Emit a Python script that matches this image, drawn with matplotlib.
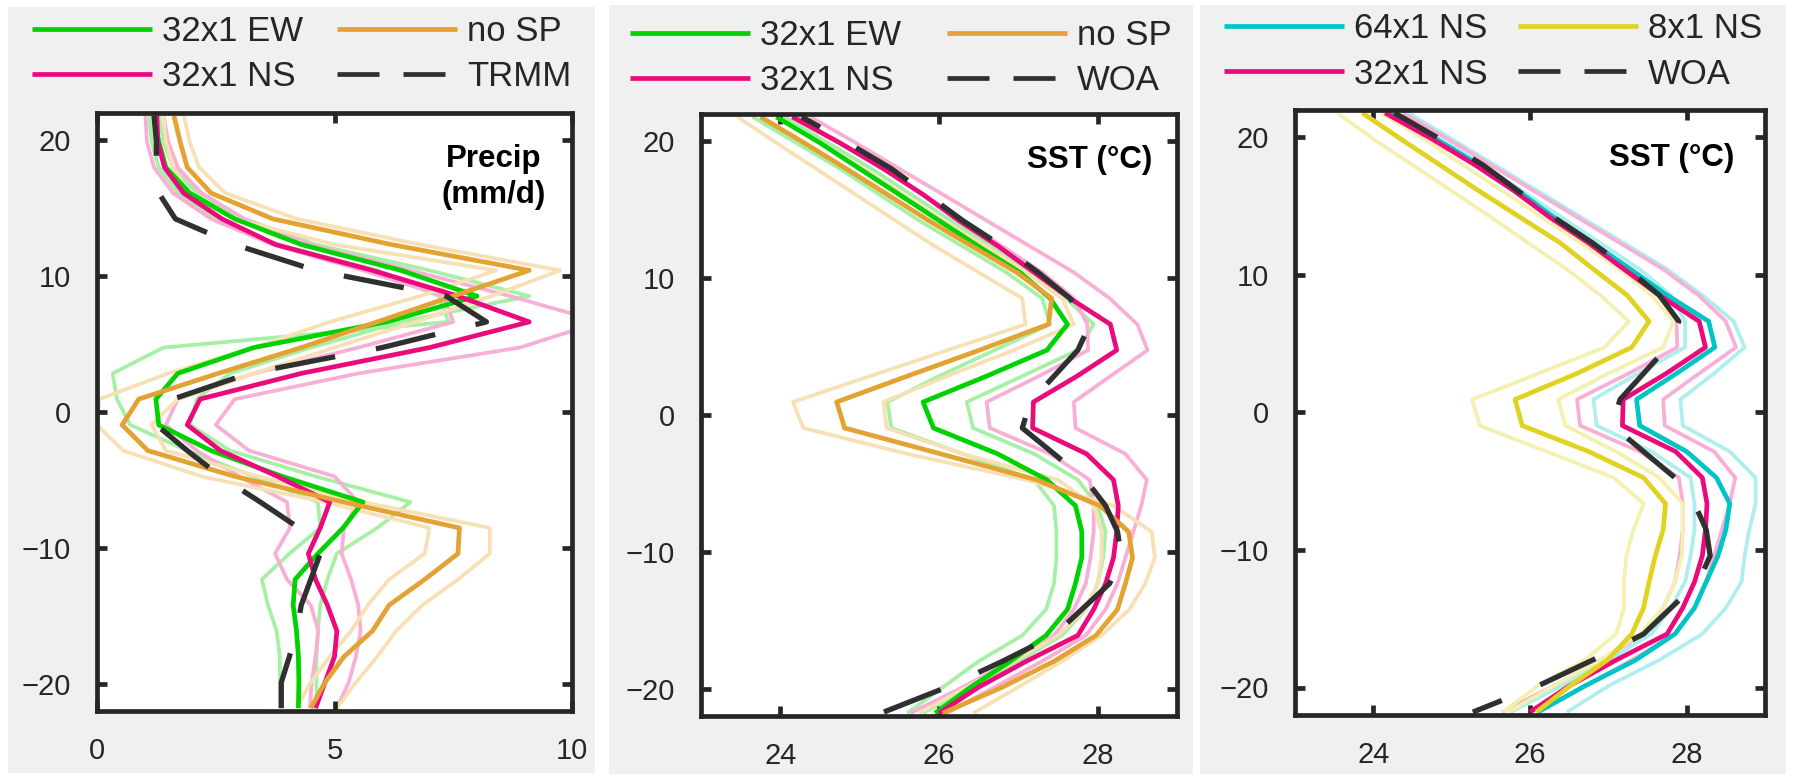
import matplotlib
matplotlib.use('Agg')
import matplotlib.pyplot as plt
from matplotlib.lines import Line2D
from matplotlib.patches import Rectangle

plt.rcParams['font.family'] = ['Liberation Sans', 'DejaVu Sans']
plt.rcParams['lines.scale_dashes'] = False
plt.rcParams['lines.solid_capstyle'] = 'butt'
plt.rcParams['lines.dash_capstyle'] = 'butt'

W, H = 1794, 776

# model latitudes (north to south)
lat = [21.79, 19.89, 18.0, 16.11, 14.21, 12.32, 10.42, 8.53, 6.63, 4.74, 2.84, 0.95,
       -0.95, -2.84, -4.74, -6.63, -8.53, -10.42, -12.32, -14.21, -16.11, -18.0, -19.89, -21.79]

# ---- precipitation (mm/d) ----
pr_ew = [1.2, 1.3, 1.45, 1.95, 2.9, 4.3, 6.4, 8.0, 6.1, 3.3, 1.7, 1.24,
         1.3, 2.4, 3.9, 5.6, 5.18, 4.65, 4.17, 4.13, 4.2, 4.24, 4.25, 4.24]
pr_ew_lo = [1.1, 1.15, 1.3, 1.7, 2.5, 3.8, 5.9, 7.2, 7.4, 1.4, 0.33, 0.42,
            0.7, 1.9, 3.3, 4.65, 4.7, 4.05, 3.47, 3.6, 3.78, 3.85, 3.85, 3.85]
pr_ew_hi = [1.3, 1.4, 1.6, 2.1, 3.1, 4.6, 7.0, 9.1, 6.4, 4.5, 2.8, 2.1,
            1.96, 2.8, 4.6, 6.6, 5.9, 5.05, 4.85, 4.7, 4.65, 4.62, 4.62, 4.62]
pr_ns = [1.26, 1.28, 1.42, 1.82, 2.63, 3.76, 5.8, 7.6, 9.1, 7.0, 4.3, 2.17,
         1.9, 2.6, 3.8, 4.9, 4.7, 4.45, 4.6, 4.85, 5.05, 5.0, 4.8, 4.6]
pr_ns_lo = [1.02, 1.05, 1.2, 1.6, 2.4, 3.7, 5.6, 7.3, 7.5, 5.5, 3.3, 1.7,
            1.45, 2.1, 3.0, 4.0, 4.06, 3.75, 4.0, 4.5, 4.66, 4.6, 4.52, 4.48]
pr_ns_hi = [1.4, 1.5, 1.7, 2.2, 3.1, 4.5, 6.6, 8.7, 10.6, 8.9, 5.5, 2.9,
            2.5, 3.2, 5.0, 5.5, 5.2, 5.15, 5.35, 5.5, 5.55, 5.45, 5.3, 5.05]
pr_nosp = [1.62, 1.75, 1.9, 2.4, 3.7, 6.2, 9.1, 7.5, 5.9, 4.3, 2.55, 0.88,
           0.53, 1.07, 2.9, 5.2, 7.63, 7.6, 6.9, 6.15, 5.8, 5.2, 4.8, 4.5]
pr_nosp_lo = [1.4, 1.45, 1.6, 1.95, 2.9, 5.0, 8.4, 6.8, 4.9, 3.3, 1.5, 0.05,
              0.0, 0.55, 2.2, 4.8, 7.0, 6.9, 6.15, 5.7, 5.35, 4.9, 4.5, 4.2]
pr_nosp_hi = [1.83, 1.95, 2.15, 2.7, 4.2, 6.8, 9.75, 8.3, 6.7, 5.0, 3.3, 1.7,
              1.15, 1.45, 3.4, 5.6, 8.27, 8.27, 7.6, 6.85, 6.3, 5.9, 5.45, 5.05]
pr_trmm = [1.2, 1.25, 1.25, 1.3, 1.65, 2.9, 4.6, 7.35, 8.2, 6.0, 3.2, 1.6,
           1.25, 1.9, 2.6, 3.44, 4.25, 4.7, 4.5, 4.3, 4.2, 4.05, 3.88, 3.88]

# ---- sea surface temperature (degC) ----
sst_woa = [24.27, 24.85, 25.4, 25.85, 26.3, 26.8, 27.25, 27.65, 27.9, 27.75, 27.45, 27.15,
           27.05, 27.45, 27.85, 28.1, 28.25, 28.3, 28.15, 27.8, 27.45, 26.8, 26.1, 25.27]
sst_ew = [23.95, 24.5, 25.0, 25.5, 26.0, 26.5, 27.02, 27.4, 27.62, 27.36, 26.6, 25.8,
          25.93, 26.74, 27.36, 27.72, 27.8, 27.8, 27.72, 27.62, 27.35, 26.9, 26.4, 25.95]
sst_ew_lo = [23.65, 24.2, 24.75, 25.25, 25.75, 26.3, 26.85, 27.3, 27.4, 26.7, 26.0, 25.35,
             25.4, 26.3, 27.2, 27.45, 27.48, 27.48, 27.45, 27.35, 27.05, 26.5, 26.05, 25.6]
sst_ew_hi = [24.05, 24.6, 25.15, 25.65, 26.15, 26.65, 27.15, 27.6, 27.95, 27.75, 27.05, 26.35,
             26.43, 27.2, 27.75, 28.0, 28.1, 28.07, 28.0, 27.85, 27.55, 27.0, 26.4, 25.8]
sst_ns = [24.15, 24.75, 25.3, 25.8, 26.25, 26.75, 27.2, 27.65, 28.16, 28.24, 27.74, 27.19,
          27.18, 27.86, 28.2, 28.26, 28.24, 28.2, 28.1, 27.95, 27.75, 27.1, 26.5, 26.0]
sst_ns_lo = [24.2, 24.75, 25.3, 25.8, 26.3, 26.8, 27.3, 27.7, 27.87, 27.88, 27.26, 26.6,
             26.64, 27.4, 27.9, 27.95, 27.95, 27.91, 27.85, 27.7, 27.45, 26.9, 26.3, 25.64]
sst_ns_hi = [24.38, 24.95, 25.5, 26.05, 26.6, 27.15, 27.7, 28.15, 28.5, 28.63, 28.16, 27.7,
             27.72, 28.35, 28.62, 28.55, 28.45, 28.35, 28.25, 28.1, 27.85, 27.3, 26.7, 26.1]
sst_nosp = [23.75, 24.3, 24.83, 25.35, 25.87, 26.42, 26.98, 27.42, 27.38, 26.51, 25.6, 24.71,
            24.81, 26.02, 27.23, 28.03, 28.39, 28.44, 28.35, 28.25, 27.98, 27.45, 26.8, 26.05]
sst_nosp_a = [23.46, 23.95, 24.45, 24.95, 25.45, 25.95, 26.5, 27.05, 27.09, 26.11, 25.13, 24.16,
              24.29, 25.6, 27.1, 28.2, 28.68, 28.72, 28.6, 28.4, 28.05, 27.55, 27.0, 26.43]
sst_nosp_b = [23.95, 24.5, 25.05, 25.55, 26.05, 26.6, 27.1, 27.55, 27.7, 26.94, 26.1, 25.3,
              25.34, 26.3, 27.5, 27.95, 28.05, 28.05, 28.0, 27.85, 27.5, 26.95, 26.35, 25.75]
sst_64 = [24.2, 24.8, 25.35, 25.85, 26.3, 26.8, 27.28, 27.75, 28.28, 28.36, 27.87, 27.36,
          27.4, 28.0, 28.38, 28.55, 28.5, 28.4, 28.25, 28.1, 27.85, 27.35, 26.7, 26.1]
sst_64_lo = [24.25, 24.85, 25.4, 25.9, 26.4, 26.9, 27.4, 27.8, 27.98, 27.98, 27.38, 26.81,
             26.85, 27.55, 28.05, 28.1, 28.1, 28.05, 27.98, 27.8, 27.55, 27.0, 26.4, 25.75]
sst_64_hi = [24.45, 25.0, 25.55, 26.1, 26.65, 27.2, 27.75, 28.2, 28.6, 28.74, 28.35, 27.92,
             27.95, 28.55, 28.88, 28.88, 28.8, 28.74, 28.7, 28.5, 28.2, 27.65, 27.0, 26.47]
sst_8 = [23.86, 24.35, 24.85, 25.35, 25.87, 26.39, 26.81, 27.24, 27.52, 27.3, 26.6, 25.81,
         25.9, 26.75, 27.45, 27.73, 27.7, 27.6, 27.52, 27.45, 27.3, 26.99, 26.51, 26.08]
sst_8_lo = [23.54, 24.0, 24.5, 25.0, 25.5, 25.98, 26.47, 26.9, 27.26, 26.95, 26.11, 25.26,
            25.36, 26.21, 27.07, 27.45, 27.32, 27.23, 27.2, 27.2, 27.1, 26.7, 26.1, 25.65]
sst_8_hi = [24.1, 24.65, 25.15, 25.65, 26.15, 26.65, 27.15, 27.55, 27.83, 27.7, 27.0, 26.36,
            26.45, 27.1, 27.65, 27.95, 27.95, 27.94, 27.85, 27.7, 27.4, 26.9, 26.3, 25.72]

# colours: (dark, light)
GREEN = ('#00d200', '#a6f0a6')
PINK = ('#ea0a7c', '#f9aed6')
ORANGE = ('#e3a232', '#f7e0b4')
CYAN = ('#00c4c6', '#aeeeee')
YELLOW = ('#e0d21e', '#f4f0ae')
OBS = '#303030'
AX = '#262626'
BG = '#f0f0f0'

LW, LW_LIGHT, LW_OBS = 3.4, 2.7, 3.8
PX = 72 / 100  # points per pixel at dpi 100

fig = plt.figure(figsize=(W / 100, H / 100), dpi=100, facecolor='white')

# grey figure backgrounds of the three panels (pixels: left, top, right, bottom)
for l, t, r, b in [(8, 7, 595, 773), (609, 5, 1193, 774), (1200, 5, 1786, 774)]:
    fig.patches.append(Rectangle((l / W, 1 - b / H), (r - l) / W, (b - t) / H,
                                 transform=fig.transFigure, facecolor=BG,
                                 edgecolor='none', zorder=-5))


def add_panel(l, t, r, b):
    ax = fig.add_axes([l / W, 1 - b / H, (r - l) / W, (b - t) / H])
    ax.set_facecolor('white')
    for s in ax.spines.values():
        s.set_linewidth(3.4)
        s.set_color(AX)
    ax.tick_params(direction='in', length=7, width=3.4, color=AX, labelcolor=AX,
                   labelsize=21, top=True, right=True, pad=19)
    ax.set_ylim(-22, 22)
    ax.set_yticks([-20, -10, 0, 10, 20])
    return ax


def draw(ax, runs, obs, dash_offset):
    for dark, light, mean, lo, hi in runs:
        ax.plot(lo, lat, color=light, lw=LW_LIGHT, zorder=1)
        ax.plot(hi, lat, color=light, lw=LW_LIGHT, zorder=1)
    for dark, light, mean, lo, hi in runs:
        ax.plot(mean, lat, color=dark, lw=LW, zorder=2)
    ax.plot(obs, lat, color=OBS, lw=LW_OBS, zorder=2.2,
            linestyle=(dash_offset * PX, (61 * PX, 41.5 * PX)))


def legend(ax, labels, colors, x, y, colspace):
    handles = [Line2D([], [], color=c, lw=LW) for c in colors]
    handles.append(Line2D([], [], color=OBS, lw=LW, linestyle=(0, (42 * PX, 24 * PX))))
    ax.legend(handles, labels, loc='upper left', bbox_to_anchor=(x / W, 1 - y / H),
              bbox_transform=fig.transFigure, ncol=2, frameon=False,
              fontsize=25, borderpad=0, borderaxespad=0, handlelength=3.45,
              handletextpad=0.28, columnspacing=colspace, labelspacing=0.36,
              labelcolor=AX)


# panel 1: precipitation
ax1 = add_panel(97, 113, 572, 711)
draw(ax1, [(GREEN[0], GREEN[1], pr_ew, pr_ew_lo, pr_ew_hi),
           (PINK[0], PINK[1], pr_ns, pr_ns_lo, pr_ns_hi),
           (ORANGE[0], ORANGE[1], pr_nosp, pr_nosp_lo, pr_nosp_hi)], pr_trmm, 21)
ax1.set_xlim(0, 10)
ax1.set_xticks([0, 5, 10])
ax1.text(0.836, 0.948, 'Precip\n(mm/d)', transform=ax1.transAxes, ha='center', va='top',
         fontsize=22.5, fontweight='bold', linespacing=1.25, color='black')
legend(ax1, ['32x1 EW', '32x1 NS', 'no SP', 'TRMM'],
       [GREEN[0], PINK[0], ORANGE[0]], 32, 15, 1.0)

# panel 2: SST, spatial orientation
ax2 = add_panel(701, 114, 1177, 716)
draw(ax2, [(GREEN[0], GREEN[1], sst_ew, sst_ew_lo, sst_ew_hi),
           (PINK[0], PINK[1], sst_ns, sst_ns_lo, sst_ns_hi),
           (ORANGE[0], ORANGE[1], sst_nosp, sst_nosp_a, sst_nosp_b)], sst_woa, 40)
ax2.set_xlim(23, 29)
ax2.set_xticks([24, 26, 28])
ax2.text(0.817, 0.924, 'SST (°C)', transform=ax2.transAxes, ha='center', va='center',
         fontsize=22.5, fontweight='bold', color='black')
legend(ax2, ['32x1 EW', '32x1 NS', 'no SP', 'WOA'],
       [GREEN[0], PINK[0], ORANGE[0]], 630, 19, 1.34)

# panel 3: SST, number of CRM columns
ax3 = add_panel(1295, 110, 1765, 715)
draw(ax3, [(CYAN[0], CYAN[1], sst_64, sst_64_lo, sst_64_hi),
           (PINK[0], PINK[1], sst_ns, sst_ns_lo, sst_ns_hi),
           (YELLOW[0], YELLOW[1], sst_8, sst_8_lo, sst_8_hi)], sst_woa, 12)
ax3.set_xlim(23, 29)
ax3.set_xticks([24, 26, 28])
ax3.text(0.802, 0.921, 'SST (°C)', transform=ax3.transAxes, ha='center', va='center',
         fontsize=22.5, fontweight='bold', color='black')
legend(ax3, ['64x1 NS', '32x1 NS', '8x1 NS', 'WOA'],
       [CYAN[0], PINK[0], YELLOW[0]], 1224, 12, 0.9)

fig.savefig('out.png', dpi=100, facecolor='white')
